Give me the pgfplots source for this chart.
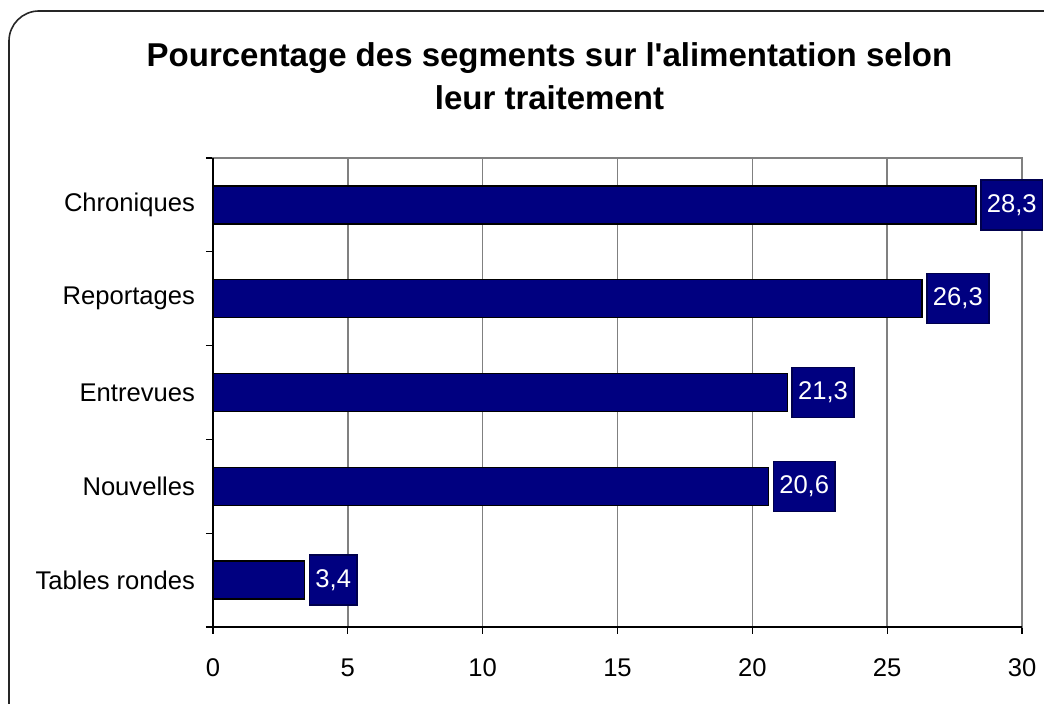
\documentclass[border=0pt]{standalone}
\usepackage{fontspec}
\setmainfont{Liberation Sans}
\usepackage{pgfplots}
\pgfplotsset{compat=1.18}
\definecolor{barnavy}{RGB}{0,0,128}
\definecolor{gridgray}{RGB}{128,128,128}

\begin{document}
\begin{tikzpicture}[x=1pt,y=1pt]
\useasboundingbox (0,0) rectangle (522,352);
% rounded frame (runs off the right and bottom edges)
\begin{scope}
\clip (0,0) rectangle (522,352);
\draw[line width=0.8pt, black!85, rounded corners=15pt] (4.5,346.5) rectangle (540,-20);
\end{scope}

\node[align=center, font=\fontsize{16.5}{21.5}\selectfont\bfseries] at (274.75,313.75)
  {Pourcentage des segments sur l\textquotesingle alimentation selon\\leur traitement};

\begin{axis}[
  at={(106.5pt,38.5pt)}, anchor=south west,
  scale only axis, width=404.5pt, height=234.5pt,
  xbar, bar width=19pt,
  xmin=0, xmax=30, ymin=-0.5, ymax=4.5,
  xtick={0,5,...,30},
  ytick={0,1,2,3,4},
  yticklabels={Tables rondes,Nouvelles,Entrevues,Reportages,Chroniques},
  minor ytick={-0.5,0.5,...,4.5},
  xtick pos=bottom, ytick pos=left,
  tick align=outside,
  major tick length=3.5pt, minor tick length=3.5pt,
  major y tick style={draw=none},
  minor y tick style={black, line width=0.6pt},
  major x tick style={black, line width=0.6pt},
  xmajorgrids, grid style={gridgray, line width=0.75pt},
  axis line style={gridgray, line width=0.75pt},
  font=\fontsize{12.8}{15}\selectfont,
  /pgf/number format/assume math mode=true,
  yticklabel style={anchor=east, xshift=-2pt},
  xticklabel style={yshift=-9pt},
  clip=false,
  nodes near coords,
  point meta=explicit,
  nodes near coords={\pgfmathprintnumber[fixed,fixed zerofill,precision=1,use comma]{\pgfplotspointmeta}},
  every node near coord/.append style={anchor=west, xshift=2pt, fill=barnavy, draw=barnavy!60!black,
    text=white, minimum height=25pt, inner xsep=3pt, font=\fontsize{12.8}{15}\selectfont},
]
\addplot[fill=barnavy, draw=black, line width=0.75pt] coordinates {
  (3.4,0) [3.4]
  (20.6,1) [20.6]
  (21.3,2) [21.3]
  (26.3,3) [26.3]
  (28.3,4) [28.3]
};
\draw[black, line width=0.75pt] (rel axis cs:0,1) -- (rel axis cs:0,0) -- (rel axis cs:1,0);
\end{axis}
\end{tikzpicture}
\end{document}
